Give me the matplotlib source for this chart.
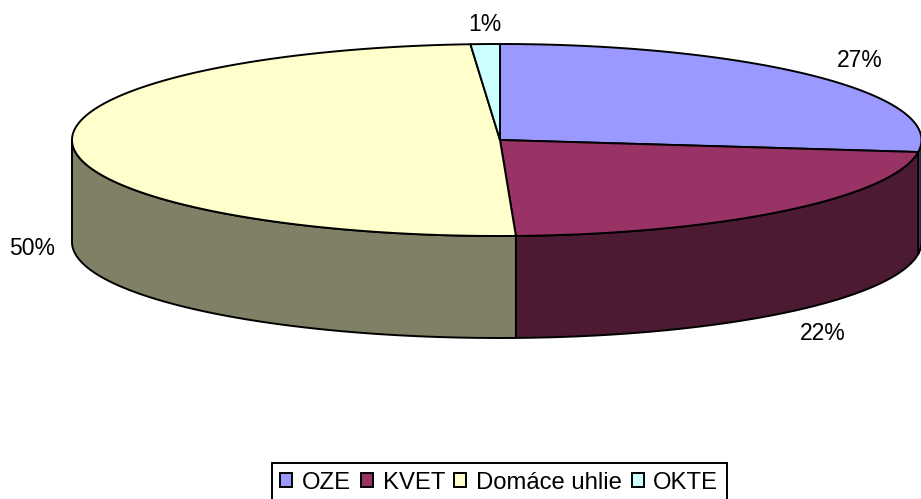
import numpy as np
import matplotlib
matplotlib.use('Agg')
import matplotlib.pyplot as plt
from matplotlib.patches import Patch

# Data
categories = ['OZE', 'KVET', 'Domáce uhlie', 'OKTE']
values = [27.0, 22.4, 49.5, 1.1]
percent_labels = ['27%', '22%', '50%', '1%']
top_colors = ['#9999FF', '#993366', '#FFFFCC', '#CCFFFF']
side_colors = ['#4D4D80', '#4D1A33', '#808066', '#668080']
label_pos = [(860, 60), (823, 334), (32, 248), (485, 24)]

plt.rcParams['font.family'] = ['Liberation Sans', 'DejaVu Sans']

W, H = 921, 499
fig = plt.figure(figsize=(W / 100, H / 100), dpi=100)
ax = fig.add_axes([0, 0, 1, 1])
ax.set_xlim(0, W)
ax.set_ylim(H, 0)
ax.axis('off')

# pie geometry in pixels, the left half is a bit wider than the right
cx, cy, rx_right, rx_left, ry, depth = 500, 140, 421.5, 428, 96, 102
lw = 1.4


def rim(a0, a1):
    t = np.radians(np.linspace(a0, a1, 200))
    s = np.sin(t)
    return cx + np.where(s > 0, rx_right, rx_left) * s, cy - ry * np.cos(t)


edges = np.cumsum([0] + values) / sum(values) * 360

# side wall, front half only (90-270 deg clockwise from the top)
for i in range(len(values)):
    a0, a1 = max(edges[i], 90), min(edges[i + 1], 270)
    if a1 <= a0:
        continue
    x, y = rim(a0, a1)
    ax.fill(np.r_[x, x[::-1]], np.r_[y, y[::-1] + depth], facecolor=side_colors[i],
            edgecolor='black', linewidth=lw, joinstyle='round', zorder=2)

# top slices
for i in range(len(values)):
    x, y = rim(edges[i], edges[i + 1])
    ax.fill(np.r_[cx, x], np.r_[cy, y], facecolor=top_colors[i],
            edgecolor='black', linewidth=lw, joinstyle='round', zorder=3)

for lab, (lx, ly) in zip(percent_labels, label_pos):
    ax.text(lx, ly, lab, ha='center', va='center', fontsize=16.5, color='black')

handles = [Patch(facecolor=c, edgecolor='black', linewidth=1.4) for c in top_colors]
leg = ax.legend(handles, categories, loc='lower left', bbox_to_anchor=(272 / W, -0.006), ncol=4,
                fontsize=17.2, frameon=True, fancybox=False, edgecolor='black', framealpha=1,
                handlelength=0.5, handleheight=0.5, handletextpad=0.41, columnspacing=0.40,
                borderpad=0.35, borderaxespad=0)
leg.get_frame().set_linewidth(1.4)

fig.savefig('out.png', dpi=100)
